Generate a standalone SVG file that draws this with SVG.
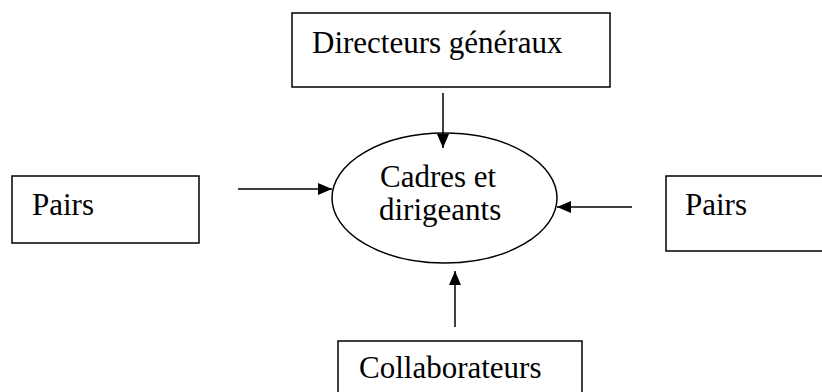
<svg xmlns="http://www.w3.org/2000/svg" width="822" height="392" viewBox="0 0 822 392">
<style>
.box{fill:#fff;stroke:#000;stroke-width:1.5}
.t{font-family:"Liberation Serif","Times New Roman",serif;font-size:31px;fill:#000}
.c{stroke:#000;stroke-width:1.5;fill:none}
</style>
<defs>
<marker id="ah" markerWidth="14" markerHeight="12" refX="14" refY="6" orient="auto" markerUnits="userSpaceOnUse" viewBox="0 0 14 12">
<path d="M0,0 L14,6 L0,12 Z" fill="#000"/>
</marker>
</defs>
<rect width="822" height="392" fill="#fff"/>
<g id="connectors">
<line class="c" x1="443" y1="93" x2="443" y2="148" marker-end="url(#ah)"/>
<line class="c" x1="238" y1="189" x2="332" y2="189" marker-end="url(#ah)"/>
<line class="c" x1="632" y1="207" x2="557" y2="207" marker-end="url(#ah)"/>
<line class="c" x1="455" y1="327" x2="455" y2="271" marker-end="url(#ah)"/>
</g>
<g id="directeurs">
<rect class="box" x="292" y="13" width="318" height="74"/>
<text class="t" x="312" y="53">Directeurs généraux</text>
</g>
<g id="cadres">
<ellipse class="box" cx="444.5" cy="198" rx="112.5" ry="65" style="fill:none"/>
<text class="t" x="380" y="187">Cadres et</text>
<text class="t" x="379" y="220">dirigeants</text>
</g>
<g id="pairs-left">
<rect class="box" x="12" y="176" width="187" height="67"/>
<text class="t" x="32" y="215">Pairs</text>
</g>
<g id="pairs-right">
<rect class="box" x="666" y="176" width="170" height="75"/>
<text class="t" x="685" y="215">Pairs</text>
</g>
<g id="collaborateurs">
<rect class="box" x="338" y="341" width="244" height="70"/>
<text class="t" x="359" y="378">Collaborateurs</text>
</g>
</svg>
